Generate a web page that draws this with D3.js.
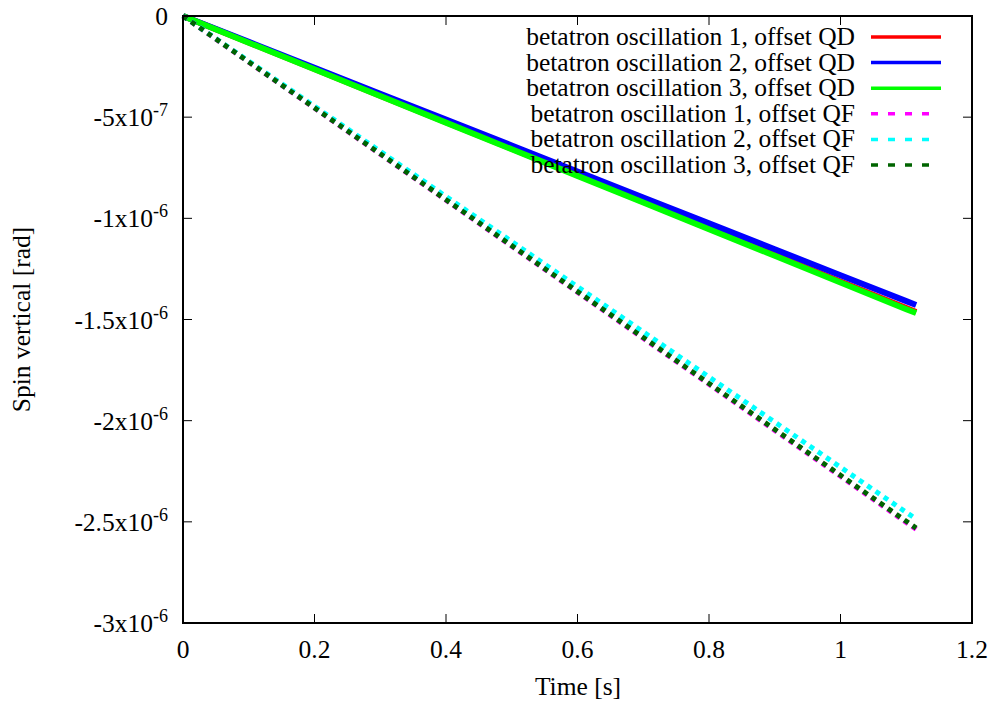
<!DOCTYPE html>
<html>
<head>
<meta charset="utf-8">
<script src="https://cdn.jsdelivr.net/npm/d3@7/dist/d3.min.js"></script>
<style>
  body { margin: 0; background: #fff; }
  text { font-family: "Liberation Serif", "DejaVu Serif", serif; fill: #000; }
</style>
</head>
<body>
<div id="chart"></div>
<script>
// time samples [s]
var time = [0, 0.1, 0.2, 0.3, 0.4, 0.5, 0.6, 0.7, 0.8, 0.9, 1.0, 1.1, 1.115];

// spin vertical, in units of 1e-6 rad
var qd1 = [0, -0.131, -0.262, -0.394, -0.525, -0.656, -0.787, -0.918, -1.050, -1.181, -1.312, -1.443, -1.463];
var qd2 = [0, -0.128, -0.256, -0.384, -0.512, -0.640, -0.769, -0.897, -1.025, -1.153, -1.281, -1.409, -1.428];
var qd3 = [0, -0.132, -0.263, -0.395, -0.527, -0.659, -0.790, -0.922, -1.054, -1.185, -1.317, -1.449, -1.468];
var qf1 = [0, -0.228, -0.455, -0.683, -0.910, -1.138, -1.365, -1.593, -1.820, -2.048, -2.275, -2.503, -2.537];
var qf2 = [0, -0.223, -0.446, -0.669, -0.892, -1.115, -1.338, -1.561, -1.784, -2.007, -2.230, -2.453, -2.486];
var qf3 = [0, -0.227, -0.454, -0.681, -0.908, -1.135, -1.362, -1.589, -1.816, -2.043, -2.270, -2.497, -2.531];

var seriesNames = [
  "betatron oscillation 1, offset QD",
  "betatron oscillation 2, offset QD",
  "betatron oscillation 3, offset QD",
  "betatron oscillation 1, offset QF",
  "betatron oscillation 2, offset QF",
  "betatron oscillation 3, offset QF"
];
var seriesValues = [qd1, qd2, qd3, qf1, qf2, qf3];
var seriesColors = ["#ff0000", "#0000ff", "#00ff00", "#ff00ff", "#00ffff", "#006400"];
var seriesDashed = [false, false, false, true, true, true];

var xTicks = [0, 0.2, 0.4, 0.6, 0.8, 1, 1.2];
var yTicks = [0, -0.5, -1, -1.5, -2, -2.5, -3];   // x1e-6
var yTickLabels = [["0", ""], ["-5x10", "-7"], ["-1x10", "-6"], ["-1.5x10", "-6"],
                   ["-2x10", "-6"], ["-2.5x10", "-6"], ["-3x10", "-6"]];

var width = 998, height = 704;
var margin = {top: 16, right: 26, bottom: 81, left: 183};
var w = width - margin.left - margin.right,
    h = height - margin.top - margin.bottom;

var svg = d3.select("#chart").append("svg").attr("width", width).attr("height", height);
var g = svg.append("g").attr("transform", "translate(" + margin.left + "," + margin.top + ")");

var x = d3.scaleLinear().domain([0, 1.2]).range([0, w]);
var y = d3.scaleLinear().domain([-3, 0]).range([h, 0]);

var fs = 25.5;

// ticks (inward, mirrored)
var tk = 9;
xTicks.forEach(function(t) {
  g.append("line").attr("x1", x(t)).attr("x2", x(t)).attr("y1", h).attr("y2", h - tk)
    .attr("stroke", "#000").attr("stroke-width", 1);
  g.append("line").attr("x1", x(t)).attr("x2", x(t)).attr("y1", 0).attr("y2", tk)
    .attr("stroke", "#000").attr("stroke-width", 1);
  g.append("text").attr("x", x(t)).attr("y", h + 35).attr("text-anchor", "middle")
    .style("font-size", fs + "px").text(t);
});
yTicks.forEach(function(t, i) {
  g.append("line").attr("x1", 0).attr("x2", tk).attr("y1", y(t)).attr("y2", y(t))
    .attr("stroke", "#000").attr("stroke-width", 1);
  g.append("line").attr("x1", w).attr("x2", w - tk).attr("y1", y(t)).attr("y2", y(t))
    .attr("stroke", "#000").attr("stroke-width", 1);
  var lab = yTickLabels[i];
  var txt = g.append("text").attr("x", -15).attr("y", y(t) + 9).attr("text-anchor", "end")
    .style("font-size", fs + "px");
  txt.append("tspan").text(lab[0]);
  if (lab[1]) {
    txt.append("tspan").attr("dy", -10).style("font-size", "18px").text(lab[1]);
  }
});

// series
var line = d3.line()
  .x(function(d) { return x(d[0]); })
  .y(function(d) { return y(d[1]); });

seriesValues.forEach(function(vals, i) {
  var pts = time.map(function(t, j) { return [t, vals[j]]; });
  g.append("path")
    .datum(pts)
    .attr("fill", "none")
    .attr("stroke", seriesColors[i])
    .attr("stroke-width", seriesDashed[i] ? 5 : 6)
    .attr("stroke-dasharray", seriesDashed[i] ? "5,5" : null)
    .attr("d", line);
});

// frame
g.append("rect").attr("x", 0).attr("y", 0).attr("width", w).attr("height", h)
  .attr("fill", "none").attr("stroke", "#000").attr("stroke-width", 2);

// legend
seriesNames.forEach(function(name, i) {
  var ly = 21 + i * 25.6;
  g.append("text").attr("x", 855 - margin.left).attr("y", ly + 8).attr("text-anchor", "end")
    .style("font-size", fs + "px").text(name);
  g.append("line")
    .attr("x1", 871 - margin.left).attr("x2", (seriesDashed[i] ? 932 : 941) - margin.left)
    .attr("y1", ly).attr("y2", ly)
    .attr("stroke", seriesColors[i]).attr("stroke-width", 3.5)
    .attr("stroke-dasharray", seriesDashed[i] ? "7,10" : null);
});

// axis titles
svg.append("text").attr("x", 578).attr("y", 695).attr("text-anchor", "middle")
  .style("font-size", fs + "px").text("Time [s]");
svg.append("text").attr("transform", "translate(30," + (margin.top + h / 2) + ") rotate(-90)")
  .attr("text-anchor", "middle").style("font-size", fs + "px").text("Spin vertical [rad]");
</script>
</body>
</html>
